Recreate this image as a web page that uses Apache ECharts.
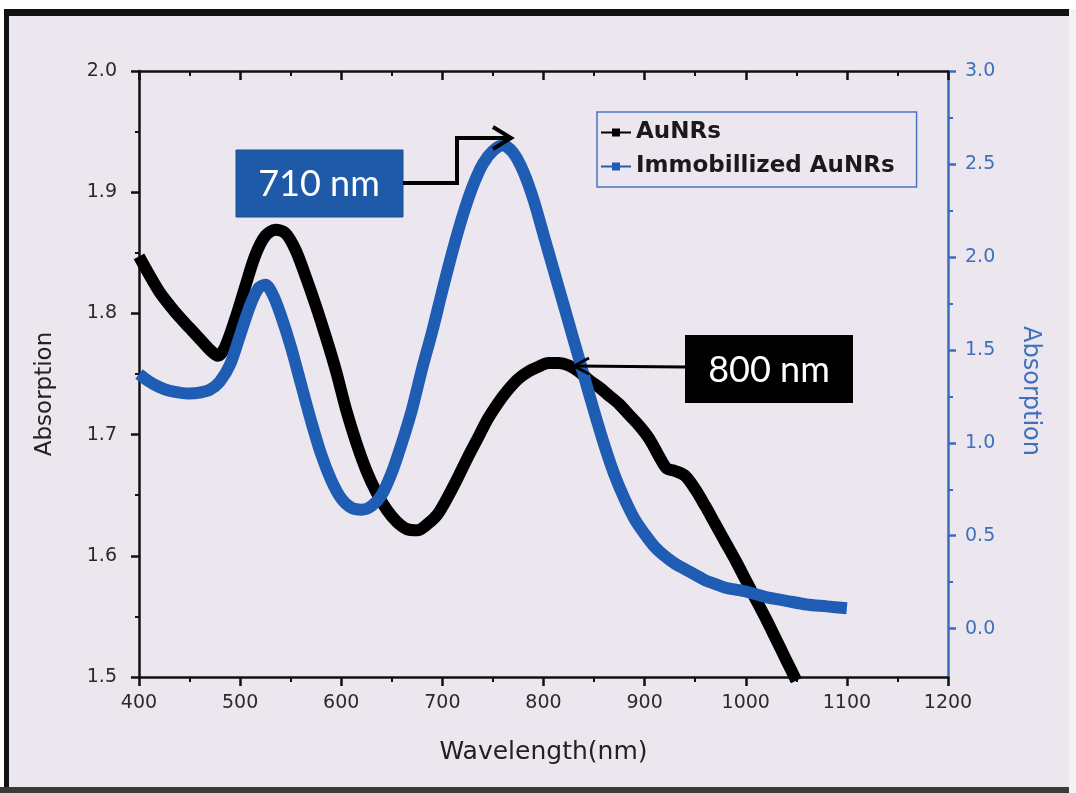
<!DOCTYPE html>
<html>
<head>
<meta charset="utf-8">
<script src="https://cdn.jsdelivr.net/npm/echarts@6/dist/echarts.min.js"></script>
<style>
html,body{margin:0;padding:0;background:#ffffff;}
#chart{width:1076px;height:793px;}
</style>
</head>
<body>
<div id="chart"></div>
<script>
// ---- data ----
const auWavelength = [400,410,420,430,440,450,460,470,478,485,495,505,515,525,535,545,555,565,575,585,595,605,615,625,635,645,655,665,675,685,695,705,715,725,735,745,755,765,775,785,795,805,815,825,835,845,855,865,875,885,895,905,915,922,930,940,950,960,970,980,990,1000,1010,1020,1030,1040,1050];
const auAbs = [1.847,1.832,1.818,1.807,1.797,1.788,1.779,1.770,1.765,1.772,1.795,1.822,1.848,1.864,1.869,1.866,1.852,1.830,1.806,1.780,1.752,1.720,1.693,1.670,1.652,1.638,1.628,1.622,1.621,1.626,1.634,1.648,1.664,1.681,1.697,1.713,1.726,1.737,1.746,1.752,1.756,1.759,1.759,1.757,1.752,1.745,1.739,1.732,1.725,1.716,1.707,1.696,1.681,1.672,1.670,1.666,1.655,1.641,1.626,1.611,1.596,1.580,1.564,1.548,1.531,1.514,1.497];

const immWavelength = [400,410,420,430,440,450,460,470,480,490,500,510,518,525,532,540,550,560,570,580,590,600,610,620,630,640,650,660,670,680,690,700,710,720,730,740,750,760,770,780,790,800,810,820,830,840,850,860,870,880,890,900,910,920,930,940,950,960,970,980,990,1000,1020,1040,1060,1080,1100];
const immAbs = [1.37,1.33,1.30,1.28,1.27,1.265,1.27,1.285,1.33,1.42,1.58,1.74,1.83,1.85,1.80,1.69,1.52,1.32,1.12,0.94,0.80,0.70,0.65,0.64,0.66,0.72,0.84,1.00,1.18,1.40,1.60,1.82,2.03,2.22,2.38,2.50,2.57,2.60,2.56,2.46,2.31,2.12,1.93,1.74,1.55,1.36,1.17,0.99,0.83,0.70,0.59,0.51,0.44,0.39,0.35,0.32,0.29,0.26,0.24,0.22,0.21,0.20,0.17,0.15,0.13,0.12,0.11];

const seriesNames = ['AuNRs', 'Immobillized AuNRs'];
const rightMajor = [0, 0.5, 1.0, 1.5, 2.0, 2.5, 3.0];
const rightMinor = [0.25, 0.75, 1.25, 1.75, 2.25, 2.75];
const peakLabels = ['710 nm', '800 nm'];

const auData = auWavelength.map((w, i) => [w, auAbs[i]]);
const immData = immWavelength.map((w, i) => [w, immAbs[i]]);

const BLUE = '#1f5db5';
const AXBLUE = '#3a6cc0';
const FONT = 'DejaVu Sans';

const chart = echarts.init(document.getElementById('chart'), null, {renderer: 'canvas'});

const option = {
  backgroundColor: '#ece7ef',
  animation: false,
  grid: {left: 139, right: 128, top: 71, bottom: 116},
  legend: {
    data: seriesNames,
    orient: 'vertical',
    left: 597, top: 112,
    borderColor: '#4a74c0', borderWidth: 1.5,
    padding: [9, 22, 9, 3],
    itemGap: 11,
    itemWidth: 30, itemHeight: 10,
    itemStyle: {borderWidth: 0},
    lineStyle: {width: 2},
    textStyle: {fontFamily: FONT, fontSize: 23, fontWeight: 'bold', color: '#1a1a1a'}
  },
  xAxis: [{
    type: 'value', min: 400, max: 1200, interval: 100, position: 'bottom',
    axisLine: {onZero: false, lineStyle: {color: '#111', width: 2.5}},
    axisTick: {length: 9, lineStyle: {color: '#111', width: 2.5}},
    minorTick: {show: true, splitNumber: 2, length: 5, lineStyle: {color: '#111', width: 2}},
    axisLabel: {margin: 17, fontFamily: FONT, fontSize: 19, color: '#2a2a2a', formatter: v => String(v)},
    splitLine: {show: false},
    name: 'Wavelength(nm)', nameLocation: 'middle', nameGap: 63,
    nameTextStyle: {fontFamily: FONT, fontSize: 25, color: '#222'}
  }, {
    type: 'value', min: 400, max: 1200, interval: 100, position: 'top',
    axisLine: {onZero: false, lineStyle: {color: '#111', width: 2.5}},
    axisTick: {inside: true, length: 9, lineStyle: {color: '#111', width: 2.5}},
    minorTick: {show: true, splitNumber: 2, length: 5, lineStyle: {color: '#111', width: 2}},
    axisLabel: {show: false},
    splitLine: {show: false}
  }],
  yAxis: [{
    type: 'value', min: 1.5, max: 2.0, interval: 0.1, position: 'left',
    axisLine: {show: true, onZero: false, lineStyle: {color: '#111', width: 2.5}},
    axisTick: {show: true, length: 8, lineStyle: {color: '#111', width: 2.5}},
    minorTick: {show: true, splitNumber: 2, length: 4, lineStyle: {color: '#111', width: 2}},
    axisLabel: {margin: 22, fontFamily: FONT, fontSize: 19, color: '#2a2a2a', formatter: v => v.toFixed(1)},
    splitLine: {show: false},
    name: 'Absorption', nameLocation: 'middle', nameGap: 82, nameRotate: 90,
    nameTextStyle: {fontFamily: FONT, fontSize: 23, color: '#222', padding: [0, 40, 0, 0]}
  }, {
    type: 'value', min: -0.26, max: 3.0, position: 'right',
    axisLine: {show: true, onZero: false, lineStyle: {color: AXBLUE, width: 2.5}},
    axisTick: {show: true, length: 8, customValues: rightMajor, lineStyle: {color: AXBLUE, width: 2.5}},
    axisLabel: {margin: 17, customValues: rightMajor, fontFamily: FONT, fontSize: 19, color: '#3f6fbd', formatter: v => v.toFixed(1)},
    splitLine: {show: false},
    name: 'Absorption', nameLocation: 'middle', nameGap: 70, nameRotate: -90,
    nameTextStyle: {fontFamily: FONT, fontSize: 24, color: '#3f6fbd', padding: [0, 0, 0, 34]}
  }, {
    type: 'value', min: -0.26, max: 3.0, position: 'right',
    axisLine: {show: false},
    axisTick: {show: true, length: 5, customValues: rightMinor, lineStyle: {color: AXBLUE, width: 2}},
    axisLabel: {show: false, customValues: rightMinor},
    splitLine: {show: false}
  }],
  series: [{
    name: seriesNames[0], type: 'line', xAxisIndex: 0, yAxisIndex: 0,
    data: auData, smooth: 0.3, symbol: 'rect', symbolSize: 9, showSymbol: false,
    clip: true,
    itemStyle: {color: '#000'},
    lineStyle: {color: '#000', width: 12, cap: 'butt', join: 'round'},
    z: 2
  }, {
    name: seriesNames[1], type: 'line', xAxisIndex: 0, yAxisIndex: 1,
    data: immData, smooth: 0.3, symbol: 'rect', symbolSize: 9, showSymbol: false,
    clip: true,
    itemStyle: {color: BLUE},
    lineStyle: {color: BLUE, width: 12, cap: 'butt', join: 'round'},
    z: 3
  }],
  graphic: [
    // frame
    {type: 'rect', shape: {x: 0, y: 0, width: 1076, height: 9}, style: {fill: '#ffffff'}, silent: true},
    {type: 'rect', shape: {x: 0, y: 9, width: 1076, height: 7}, style: {fill: '#111111'}, silent: true},
    {type: 'rect', shape: {x: 0, y: 9, width: 4, height: 784}, style: {fill: '#ffffff'}, silent: true},
    {type: 'rect', shape: {x: 4, y: 9, width: 5, height: 784}, style: {fill: '#111111'}, silent: true},
    {type: 'rect', shape: {x: 0, y: 787, width: 1076, height: 6}, style: {fill: '#3a3a3a'}, silent: true},
    {type: 'rect', shape: {x: 1069, y: 9, width: 7, height: 784}, style: {fill: '#f4f2f5'}, silent: true},
    // 710 nm annotation
    {type: 'rect', shape: {x: 236, y: 150, width: 167, height: 67}, style: {fill: '#1f5aa8', stroke: '#1a4c90', lineWidth: 1}, z: 10},
    {type: 'text', x: 319, y: 184, style: {text: peakLabels[0], fill: '#ffffff', fontFamily: 'Lato', fontSize: 36, align: 'center', verticalAlign: 'middle'}, z: 11},
    {type: 'polyline', shape: {points: [[403,183],[457,183],[457,138],[508,138]]}, style: {stroke: '#000', lineWidth: 4, fill: null}, z: 10},
    {type: 'polyline', shape: {points: [[493,127],[511,138],[493,149]]}, style: {stroke: '#000', lineWidth: 4, fill: null}, z: 10},
    // 800 nm annotation
    {type: 'rect', shape: {x: 685, y: 335, width: 168, height: 68}, style: {fill: '#000000'}, z: 10},
    {type: 'text', x: 769, y: 370, style: {text: peakLabels[1], fill: '#ffffff', fontFamily: 'Lato', fontSize: 36, align: 'center', verticalAlign: 'middle'}, z: 11},
    {type: 'polyline', shape: {points: [[685,367],[576,366]]}, style: {stroke: '#000', lineWidth: 3, fill: null}, z: 10},
    {type: 'polyline', shape: {points: [[589,358],[574,366],[589,374]]}, style: {stroke: '#000', lineWidth: 3, fill: null}, z: 10}
  ]
};
chart.setOption(option);
</script>
</body>
</html>
